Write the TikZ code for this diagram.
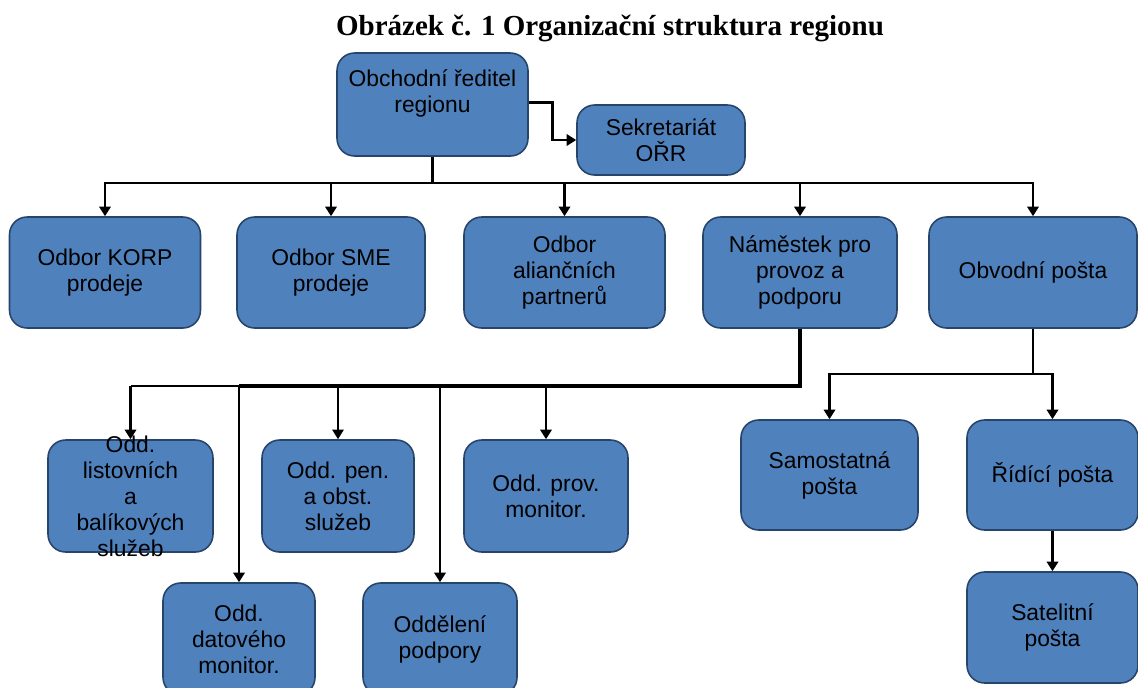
\documentclass[tikz,border=0pt]{standalone}
\usepackage{fontspec}
\setmainfont{Liberation Sans}
\newfontfamily\titulfont{Liberation Serif}
\usetikzlibrary{arrows.meta}
\definecolor{modra}{HTML}{4F81BD}
\definecolor{okraj}{HTML}{27456B}

\begin{document}
\begin{tikzpicture}[x=0.02cm,y=-0.02cm,
        blok/.style={rectangle,rounded corners=10pt,draw=okraj,line width=0.9pt,fill=modra,
                     align=center,inner sep=0pt,font=\fontsize{13}{14.8}\selectfont},
        popis/.style={align=center,inner sep=0pt,font=\fontsize{13}{14.8}\selectfont},
        spoj/.style={line width=1.5pt,-{Triangle[width=6.5pt,length=5.5pt]}},
        tenky/.style={line width=0.8pt},
        silny/.style={line width=2pt}]
        \useasboundingbox (0,0) rectangle (1138,687);
        % Nadpis
            \node[font=\titulfont\bfseries\fontsize{16.5}{18}\selectfont] (titul) at (610,28) {Obrázek č. 1 Organizační struktura regionu};
            % Vedení regionu
            \node[blok,minimum width=3.82cm,minimum height=2.06cm] (reditel) at (432.5,104.5) {Obchodní ředitel\\regionu\\\mbox{}};
            \node[blok,minimum width=3.36cm,minimum height=1.4cm] (sekretariat) at (661,140) {Sekretariát\\OŘR};
            % Druhá úroveň
            \node[blok,minimum width=3.82cm,minimum height=2.22cm] (korp) at (105,272.5) {Odbor KORP\\prodeje};
            \node[blok,minimum width=3.76cm,minimum height=2.22cm] (sme) at (331,272.5) {Odbor SME\\prodeje};
            \node[blok,minimum width=4.02cm,minimum height=2.22cm] (alian) at (564.5,272.5) {Odbor\\aliančních\\partnerů};
            \node[blok,minimum width=3.88cm,minimum height=2.22cm] (namestek) at (800,272.5) {Náměstek pro\\provoz a\\podporu};
            \node[blok,minimum width=4.16cm,minimum height=2.22cm] (obvodni) at (1033,272.5) {Obvodní pošta};
            % Oddělení náměstka
            \node[blok,minimum width=3.3cm,minimum height=2.24cm] (listovni) at (130.5,496) {};
            \node[popis] (listovnitext) at (listovni) {Odd.\\listovních\\a\\balíkových\\služeb};
            \node[blok,minimum width=3.04cm,minimum height=2.24cm] (penezni) at (338,496) {Odd. pen.\\a obst.\\služeb};
            \node[blok,minimum width=3.28cm,minimum height=2.24cm] (provozni) at (546,496) {Odd. prov.\\monitor.};
            \node[blok,minimum width=3.04cm,minimum height=2.24cm] (datovy) at (239,639) {Odd.\\datového\\monitor.};
            \node[blok,minimum width=3.08cm,minimum height=2.24cm] (podpora) at (440,639) {Oddělení\\podpory};
            % Pošty
            \node[blok,minimum width=3.54cm,minimum height=2.2cm] (samostatna) at (829.5,475) {Samostatná\\pošta};
            \node[blok,minimum width=3.42cm,minimum height=2.2cm] (ridici) at (1052.5,475) {Řídící pošta};
            \node[blok,minimum width=3.42cm,minimum height=2.22cm] (satelitni) at (1052.5,627.5) {Satelitní\\pošta};

            % Spojnice
            \draw[spoj] ([yshift=1pt]reditel.east) -- ++(24,0) |- (sekretariat.west);
            \coordinate (sbernice) at (432.5,183);
            \draw[silny] (reditel.south) -- (sbernice);
            \foreach \cil in {korp,sme,alian,namestek,obvodni}
                \draw[spoj] (sbernice) -| (\cil.north);

            \coordinate (nbus) at (800,386);
            \draw[silny,line width=2.6pt] (namestek.south) -- (nbus) -- (nbus -| datovy.north);
            \draw[tenky] (nbus -| datovy.north) -- (nbus -| listovni.north);
            \draw[spoj] (nbus -| listovni.north) -- (listovni.north);
            \draw[spoj] (nbus -| datovy.north) -- (datovy.north);
            \draw[spoj,line width=1pt] (nbus -| penezni.north) -- (penezni.north);
            \draw[spoj] (nbus -| podpora.north) -- (podpora.north);
            \draw[spoj] (nbus -| provozni.north) -- (provozni.north);

            \coordinate (obus) at (1033,374);
            \draw[tenky] (obvodni.south) -- (obus);
            \draw[spoj] (obus) -| (samostatna.north);
            \draw[spoj] (obus) -| (ridici.north);
            \draw[spoj] (ridici.south) -- (satelitni.north);
        \end{tikzpicture}
\end{document}
